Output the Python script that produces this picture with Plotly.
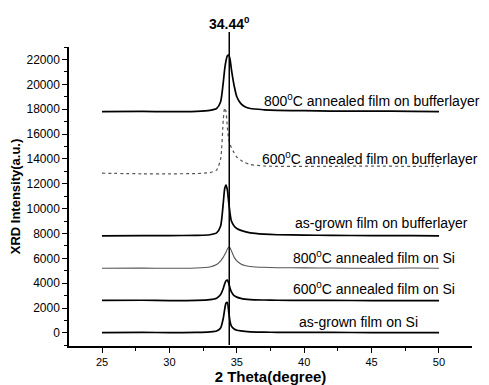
import plotly.graph_objects as go

two_theta = [25, 28, 30, 32, 33, 33.5, 33.8, 34.0, 34.1, 34.2, 34.3, 34.4, 34.5, 34.6,
             34.8, 35.0, 35.3, 35.6, 36, 37, 38, 40, 42, 45, 48, 50]

asgrown_si = [30, 40, 30, 40, 80, 150, 400, 1200, 1900, 2400, 2450, 1700, 900, 550,
              320, 220, 160, 120, 90, 60, 50, 40, 40, 30, 30, 20]
ann600_si = [2620, 2630, 2600, 2620, 2680, 2800, 3100, 3600, 3950, 4200, 4250, 4000, 3600, 3300,
             3000, 2880, 2780, 2720, 2680, 2650, 2630, 2620, 2620, 2600, 2600, 2600]
ann800_si = [5200, 5210, 5200, 5220, 5300, 5500, 5800, 6100, 6300, 6500, 6750, 6900, 6850, 6600,
             6100, 5800, 5550, 5420, 5350, 5280, 5250, 5230, 5220, 5200, 5220, 5200]
asgrown_buf = [7800, 7820, 7830, 7850, 7900, 8050, 8600, 10500, 11600, 11900, 11500, 10500, 9600, 9000,
               8600, 8400, 8250, 8150, 8050, 7950, 7900, 7870, 7850, 7830, 7820, 7800]
ann600_buf = [12850, 12800, 12800, 12820, 12900, 13100, 14000, 17200, 18100, 17800, 16500, 15600, 15200, 14900,
              14500, 14150, 13900, 13700, 13550, 13430, 13400, 13400, 13400, 13420, 13400, 13400]
ann800_buf = [17800, 17820, 17800, 17830, 17900, 18050, 18600, 20200, 21200, 21900, 22300, 22350, 22000, 21200,
              19900, 19000, 18450, 18200, 18050, 17950, 17900, 17880, 17850, 17850, 17830, 17800]

labels = ["as-grown film on Si", "600<sup>0</sup>C annealed film on Si", "800<sup>0</sup>C annealed film on Si",
          "as-grown film on bufferlayer", "600<sup>0</sup>C annealed film on bufferlayer",
          "800<sup>0</sup>C annealed film on bufferlayer"]
label_x = [39.5, 39.05, 39.05, 39.15, 36.7, 36.85]
label_y = [910, 3600, 6130, 8835, 14050, 18715]

peak_position = 34.44
peak_label = "34.44<sup>0</sup>"

series = [asgrown_si, ann600_si, ann800_si, asgrown_buf, ann600_buf, ann800_buf]
styles = [dict(color="black", width=1.7), dict(color="black", width=1.7),
          dict(color="#555555", width=1.1), dict(color="black", width=1.7),
          dict(color="#555555", width=1.2, dash="dot"), dict(color="black", width=1.7)]

fig = go.Figure()
for ys, st in zip(series, styles):
    fig.add_trace(go.Scatter(x=two_theta, y=ys, mode="lines", line=dict(shape="spline", smoothing=0.6, **st),
                             showlegend=False))

for t, lx, ly in zip(labels, label_x, label_y):
    fig.add_annotation(x=lx, y=ly, text=t, showarrow=False, xanchor="left", yanchor="middle",
                       font=dict(family="Liberation Sans, Arial", size=14, color="black"))

fig.add_shape(type="line", x0=peak_position, x1=peak_position, xref="x", yref="paper", y0=0.003, y1=1.05,
              line=dict(color="black", width=1.5))
fig.add_annotation(x=peak_position, xref="x", y=1.08, yref="paper", text="<b>" + peak_label + "</b>",
                   showarrow=False, xanchor="center", yanchor="middle",
                   font=dict(family="Liberation Sans, Arial", size=14, color="black"))

fig.update_xaxes(range=[22.55, 52.45], dtick=5, tick0=25, showline=True, linecolor="black", linewidth=1.5,
                 ticks="outside", ticklen=5, tickwidth=1.2, tickcolor="black", showgrid=False, zeroline=False,
                 automargin=False,
                 minor=dict(dtick=2.5, tick0=25, ticks="outside", ticklen=3, tickcolor="black"),
                 tickfont=dict(family="Liberation Sans, Arial", size=11, color="black"),
                 title=dict(text="<b>2 Theta(degree)</b>", standoff=2,
                            font=dict(family="Liberation Sans, Arial", size=15, color="black")))
fig.update_yaxes(range=[-1050, 23000], dtick=2000, tick0=0, showline=True, linecolor="black", linewidth=1.5,
                 ticks="outside", ticklen=5, tickwidth=1.2, tickcolor="black", showgrid=False, zeroline=False,
                 automargin=False, tickformat="d",
                 minor=dict(dtick=1000, tick0=0, ticks="outside", ticklen=3, tickcolor="black"),
                 tickfont=dict(family="Liberation Sans, Arial", size=12, color="black"),
                 title=dict(text="<b>XRD Intensity(a.u.)</b>", standoff=3,
                            font=dict(family="Liberation Sans, Arial", size=13, color="black")))

# page body adds an 8px offset at top-left, so the figure is shifted accordingly
fig.update_layout(width=481, height=377, margin=dict(l=61, r=17, t=39, b=39),
                  plot_bgcolor="white", paper_bgcolor="white")

fig.write_html("out.html")
